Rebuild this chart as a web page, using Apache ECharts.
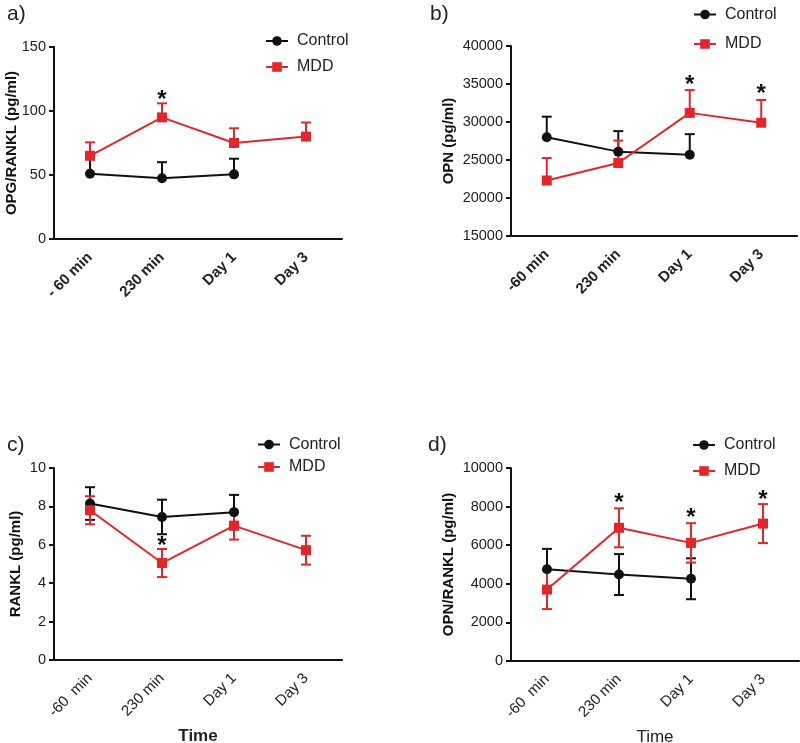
<!DOCTYPE html>
<html>
<head>
<meta charset="utf-8">
<script src="https://cdn.jsdelivr.net/npm/echarts@6/dist/echarts.min.js"></script>
<style>html,body{margin:0;padding:0;background:#fff}#c{width:800px;height:743px}</style>
</head>
<body>
<div id="c"></div>
<script>
// ---- data ----
var catsA = ['- 60 min', '230 min', 'Day 1', 'Day 3'];
var catsB = ['-60 min', '230 min', 'Day 1', 'Day 3'];
var catsC = ['-60  min', '230 min', 'Day 1', 'Day 3'];
var catsD = ['-60  min', '230 min', 'Day 1', 'Day 3'];

var ctrlA = [51, 47.5, 50.5, null];
var ctrlAErr = [11.5, 12.5, 12.2, null];
var mddA = [65, 95, 75, 80];
var mddAErr = [10.5, 11, 11.5, 11];
var sigA = [[1, 112.5]];

var ctrlB = [28000, 26100, 25700, null];
var ctrlBErr = [2700, 2700, 2700, null];
var mddB = [22300, 24600, 31200, 29900];
var mddBErr = [2950, 2950, 3000, 3000];
var sigB = [[2, 35500], [3, 34300]];

var ctrlC = [8.15, 7.45, 7.7, null];
var ctrlCErr = [0.85, 0.9, 0.9, null];
var mddC = [7.8, 5.05, 7.0, 5.72];
var mddCErr = [0.73, 0.73, 0.73, 0.75];
var sigC = [[1, 6.19]];

var ctrlD = [4750, 4480, 4260, null];
var ctrlDErr = [1060, 1060, 1060, null];
var mddD = [3700, 6900, 6120, 7120];
var mddDErr = [1010, 1010, 1020, 1010];
var sigD = [[1, 8420], [2, 7670], [3, 8590]];

var yTicksA = {min: 0, max: 150, interval: 50};
var yTicksB = {min: 15000, max: 40000, interval: 5000};
var yTicksC = {min: 0, max: 10, interval: 2};
var yTicksD = {min: 0, max: 10000, interval: 2000};

var RED = '#e4262b';
var BLACK = '#111';
var FONT = '"Liberation Sans", Arial, Helvetica, sans-serif';

function errData(vals, errs, two) {
  var out = [];
  for (var i = 0; i < vals.length; i++) {
    if (vals[i] == null) continue;
    out.push([i, two ? vals[i] - errs[i] : vals[i], vals[i] + errs[i]]);
  }
  return out;
}
function errRender(color, two) {
  return function (params, api) {
    var x = api.value(0), lo = api.value(1), hi = api.value(2);
    var pHi = api.coord([x, hi]), pLo = api.coord([x, lo]);
    var hw = 5;
    var st = {stroke: color, lineWidth: 2};
    var ch = [
      {type: 'line', shape: {x1: pHi[0], y1: pHi[1], x2: pLo[0], y2: pLo[1]}, style: st},
      {type: 'line', shape: {x1: pHi[0] - hw, y1: pHi[1], x2: pHi[0] + hw, y2: pHi[1]}, style: st}
    ];
    if (two) ch.push({type: 'line', shape: {x1: pLo[0] - hw, y1: pLo[1], x2: pLo[0] + hw, y2: pLo[1]}, style: st});
    return {type: 'group', children: ch};
  };
}
function sigRender(params, api) {
  var p = api.coord([api.value(0), api.value(1)]);
  return {type: 'text', x: p[0], y: p[1] + 5,
    style: {text: '*', fontSize: 24, fontWeight: 'bold', fontFamily: FONT, fill: '#111', align: 'center', verticalAlign: 'middle'}};
}

var grids = [
  {left: 54, top: 47, width: 288, height: 192, outerBoundsMode: 'none', containLabel: false},
  {left: 511, top: 46, width: 286, height: 190, outerBoundsMode: 'none', containLabel: false},
  {left: 54, top: 468, width: 288, height: 192, outerBoundsMode: 'none', containLabel: false},
  {left: 511, top: 468, width: 288, height: 193, outerBoundsMode: 'none', containLabel: false}
];
var cats = [catsA, catsB, catsC, catsD];
var yt = [yTicksA, yTicksB, yTicksC, yTicksD];
var yNames = ['OPG/RANKL (pg/ml)', 'OPN (pg/ml)', 'RANKL (pg/ml)', 'OPN/RANKL (pg/ml)'];
var yGaps = [35, 55, 31, 55];
var xBold = [true, true, false, false];
var xNames = ['', '', 'Time', 'Time'];
var xNameBold = [true, true, true, false];
var ctrl = [ctrlA, ctrlB, ctrlC, ctrlD];
var ctrlE = [ctrlAErr, ctrlBErr, ctrlCErr, ctrlDErr];
var mdd = [mddA, mddB, mddC, mddD];
var mddE = [mddAErr, mddBErr, mddCErr, mddDErr];
var two = [false, false, true, true];
var sigs = [sigA, sigB, sigC, sigD];

var xAxes = [], yAxes = [], series = [];
for (var g = 0; g < 4; g++) {
  xAxes.push({
    type: 'category', gridIndex: g, data: cats[g], boundaryGap: true,
    name: xNames[g], nameLocation: 'middle', nameGap: 68, nameMoveOverlap: false,
    nameTextStyle: {fontFamily: FONT, fontSize: 17, fontWeight: xNameBold[g] ? 'bold' : 'normal', color: '#222'},
    axisLine: {lineStyle: {color: '#111', width: 2}},
    axisTick: {alignWithLabel: true, length: 6, lineStyle: {width: 2, color: '#111'}},
    axisLabel: {rotate: 45, margin: 16, fontFamily: FONT, fontSize: 15, fontWeight: xBold[g] ? 'bold' : 'normal', color: '#222', interval: 0},
    splitLine: {show: false}
  });
  yAxes.push({
    type: 'value', gridIndex: g, min: yt[g].min, max: yt[g].max, interval: yt[g].interval,
    name: yNames[g], nameLocation: 'middle', nameGap: yGaps[g], nameRotate: 90, nameMoveOverlap: false,
    nameTextStyle: {fontFamily: FONT, fontSize: 15, fontWeight: 'bold', color: '#111'},
    axisLine: {show: true, lineStyle: {color: '#111', width: 2}},
    axisTick: {show: true, length: 5, lineStyle: {width: 2, color: '#111'}},
    axisLabel: {margin: 8, fontFamily: FONT, fontSize: 14.5, color: '#222', formatter: function (v) { return String(v); }},
    splitLine: {show: false}
  });
  series.push({
    type: 'custom', xAxisIndex: g, yAxisIndex: g, name: 'errC' + g, z: 1,
    renderItem: errRender(BLACK, two[g]), data: errData(ctrl[g], ctrlE[g], two[g]), encode: {x: 0, y: [1, 2]}, silent: true
  });
  series.push({
    type: 'custom', xAxisIndex: g, yAxisIndex: g, name: 'errM' + g, z: 1,
    renderItem: errRender(RED, two[g]), data: errData(mdd[g], mddE[g], two[g]), encode: {x: 0, y: [1, 2]}, silent: true
  });
  series.push({
    type: 'line', name: 'Control', xAxisIndex: g, yAxisIndex: g, data: ctrl[g], z: 3,
    symbol: 'circle', symbolSize: 10, lineStyle: {color: BLACK, width: 2}, itemStyle: {color: BLACK}, connectNulls: false
  });
  series.push({
    type: 'line', name: 'MDD', xAxisIndex: g, yAxisIndex: g, data: mdd[g], z: 4,
    symbol: 'rect', symbolSize: 10, lineStyle: {color: RED, width: 2}, itemStyle: {color: RED}
  });
  series.push({
    type: 'custom', xAxisIndex: g, yAxisIndex: g, name: 'sig' + g, z: 5,
    renderItem: sigRender, data: sigs[g], encode: {x: 0, y: 1}, silent: true
  });
}

function legend(left, top, gap) {
  return {
    left: left, top: top, orient: 'vertical', padding: 0, itemGap: gap, itemWidth: 22, itemHeight: 12,
    data: ['Control', 'MDD'], selectedMode: false,
    textStyle: {fontFamily: FONT, fontSize: 16, color: '#222', padding: [0, 0, 0, 4]}
  };
}

var chart = echarts.init(document.getElementById('c'), null, {renderer: 'canvas'});
chart.setOption({
  backgroundColor: '#fff',
  animation: false,
  textStyle: {fontFamily: FONT},
  grid: grids,
  xAxis: xAxes,
  yAxis: yAxes,
  legend: [legend(265, 33, 10), legend(693, 6.5, 13.5), legend(257, 436.5, 6.5), legend(692, 437, 10)],
  graphic: [
    {type: 'text', left: 7, top: 4, style: {text: 'a)', fontSize: 21, fontFamily: FONT, fill: '#222'}},
    {type: 'text', left: 430, top: 4, style: {text: 'b)', fontSize: 21, fontFamily: FONT, fill: '#222'}},
    {type: 'text', left: 7, top: 435, style: {text: 'c)', fontSize: 21, fontFamily: FONT, fill: '#222'}},
    {type: 'text', left: 428, top: 435, style: {text: 'd)', fontSize: 21, fontFamily: FONT, fill: '#222'}}
  ],
  series: series
});
</script>
</body>
</html>
